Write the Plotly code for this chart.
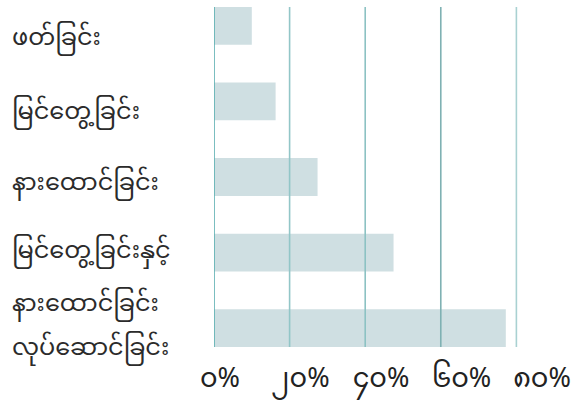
import plotly.graph_objects as go

categories = ["ဖတ်ခြင်း", "မြင်တွေ့ခြင်း", "နားထောင်ခြင်း", "မြင်တွေ့ခြင်းနှင့်<br>နားထောင်ခြင်း", "လုပ်ဆောင်ခြင်း"]
values = [10, 16.3, 27.4, 47.5, 77.2]
tick_vals = [0, 20, 40, 60, 80]
tick_text = ["၀%", "၂၀%", "၄၀%", "၆၀%", "၈၀%"]

font_family = "Noto Sans Myanmar, Noto Sans, sans-serif"
label_shift = [-14, -12, -7, 0, -21]  # styling: vertical nudge of each label (px)
line_gap = 53  # styling: gap between wrapped label lines (px)
grid_colors = ["#5aaeb0", "#92c6c7", "#8cc2c3", "#7fb1b3", "#a9d1d2"]  # styling

W, H = 582, 411
L, R, T, B = 214, 0, 7, 64
plot_w = W - L - R
bar_w_px = 305  # width of the bar area in px

fig = go.Figure()
fig.add_trace(go.Bar(
    x=values, y=list(range(len(categories))), orientation="h",
    marker=dict(color="#cfdfe2", line=dict(width=0)),
    width=0.5, hoverinfo="skip",
))
# invisible helper trace so the tick-label axis is drawn
fig.add_trace(go.Scatter(x=[tick_vals[0]], y=[0], xaxis="x2", yaxis="y", mode="none",
                         hoverinfo="skip", showlegend=False))

# gridlines drawn above the bars, at the tick values of the data axis
for v, col in zip(tick_vals, grid_colors):
    fig.add_shape(type="line", xref="x", yref="paper", x0=v, x1=v, y0=0, y1=1,
                  line=dict(color=col, width=1.6), layer="above")

annotations = []
for i, c in enumerate(categories):
    for j, line in enumerate(c.split("<br>")):
        annotations.append(dict(
            x=(10 - L) / plot_w, y=i, xref="paper", yref="y", text=line, showarrow=False,
            xanchor="left", yanchor="middle", align="left",
            yshift=label_shift[i] - j * line_gap,
            font=dict(size=24, color="#2b2b2b", family=font_family),
        ))

px_per_unit2 = 4.025
zero2 = 220 - L
fig.update_layout(
    width=W, height=H,
    margin=dict(l=L, r=R, t=T, b=B),
    paper_bgcolor="white", plot_bgcolor="rgba(0,0,0,0)",
    showlegend=False, bargap=0.5,
    annotations=annotations,
    xaxis=dict(
        domain=[0, bar_w_px / plot_w],
        range=[0, 80.69], tickvals=tick_vals, showticklabels=False,
        showgrid=False, zeroline=False, showline=False, ticks="",
    ),
    xaxis2=dict(
        domain=[0, 1], anchor="y", side="bottom",
        range=[-zero2 / px_per_unit2, (plot_w - zero2) / px_per_unit2],
        tickvals=tick_vals, ticktext=tick_text,
        showgrid=False, zeroline=False, showline=False, ticks="",
        ticklabelstandoff=12,
        tickfont=dict(size=27, color="#222222", family=font_family),
    ),
    yaxis=dict(
        range=[4.25, -0.25], showticklabels=False, showgrid=False,
        zeroline=False, showline=False,
    ),
)
fig.write_html("out.html", config={"displayModeBar": False},
               post_script="document.body.style.margin='0';")
